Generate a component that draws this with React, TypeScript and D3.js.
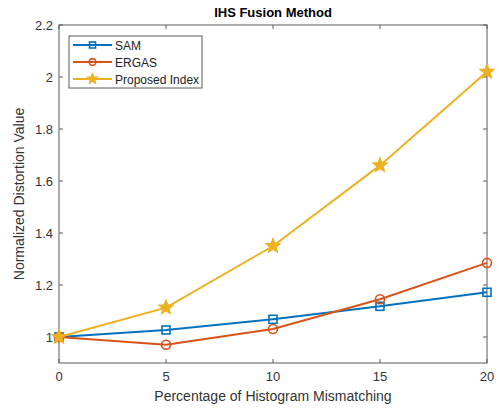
import React from "react";
import * as d3 from "d3";

const xValues = [0, 5, 10, 15, 20];
const samValues = [1.0, 1.027, 1.068, 1.118, 1.172];
const ergasValues = [1.0, 0.97, 1.031, 1.145, 1.285];
const proposedValues = [1.0, 1.113, 1.35, 1.66, 2.02];
const xTicks = [0, 5, 10, 15, 20];
const yTicks = [1, 1.2, 1.4, 1.6, 1.8, 2, 2.2];
const seriesNames = ["SAM", "ERGAS", "Proposed Index"];
const colors = ["#0072BD", "#D95319", "#EDB120"];

const W = 499, H = 409;
const M = { left: 59, right: 487, top: 25, bottom: 363 };
const FONT = "'Liberation Sans', Arial, Helvetica, sans-serif";
const AX = "#5a5a5a";

function starPath(cx: number, cy: number, R: number) {
  const r = R * 0.42;
  const pts: string[] = [];
  for (let i = 0; i < 10; i++) {
    const a = -Math.PI / 2 + (i * Math.PI) / 5;
    const rr = i % 2 === 0 ? R : r;
    pts.push(`${cx + rr * Math.cos(a)},${cy + rr * Math.sin(a)}`);
  }
  return "M" + pts.join("L") + "Z";
}

function Marker({ kind, x, y, color, s = 1 }: { kind: number; x: number; y: number; color: string; s?: number }) {
  if (kind === 0) return <rect x={x - 4 * s} y={y - 4 * s} width={8 * s} height={8 * s} fill="none" stroke={color} strokeWidth={1.6} />;
  if (kind === 1) return <circle cx={x} cy={y} r={4.5 * s} fill="none" stroke={color} strokeWidth={1.6} />;
  return <path d={starPath(x, y, 8 * s)} fill={color} stroke={color} strokeWidth={1} />;
}

export default function App() {
  const x = d3.scaleLinear().domain([0, 20]).range([M.left, M.right]);
  const y = d3.scaleLinear().domain([0.9, 2.2]).range([M.bottom, M.top]);
  const line = d3.line<[number, number]>().x((d) => x(d[0])).y((d) => y(d[1]));
  const series = [samValues, ergasValues, proposedValues];
  const tl = 4;
  return (
    <svg width={W} height={H} style={{ position: "absolute", left: 0, top: 0, background: "#fff" }} fontFamily={FONT}>
      <rect x={0} y={0} width={W} height={H} fill="#fff" />
      {xTicks.map((t) => (
        <g key={"x" + t}>
          <line x1={x(t)} x2={x(t)} y1={M.bottom} y2={M.bottom - tl} stroke={AX} />
          <line x1={x(t)} x2={x(t)} y1={M.top} y2={M.top + tl} stroke={AX} />
          <text x={x(t)} y={M.bottom + 18} textAnchor="middle" fontSize={13} fill="#333">{t}</text>
        </g>
      ))}
      {yTicks.map((t) => (
        <g key={"y" + t}>
          <line x1={M.left} x2={M.left + tl} y1={y(t)} y2={y(t)} stroke={AX} />
          <line x1={M.right} x2={M.right - tl} y1={y(t)} y2={y(t)} stroke={AX} />
          <text x={M.left - 6} y={y(t) + 4.5} textAnchor="end" fontSize={13} fill="#333">{d3.format("~g")(t)}</text>
        </g>
      ))}
      <rect x={M.left} y={M.top} width={M.right - M.left} height={M.bottom - M.top} fill="none" stroke={AX} strokeWidth={1} />
      {series.map((vals, i) => (
        <g key={"s" + i}>
          <path d={line(xValues.map((xv, j) => [xv, vals[j]]) as [number, number][]) || ""} fill="none" stroke={colors[i]} strokeWidth={2} />
          {xValues.map((xv, j) => (
            <Marker key={j} kind={i} x={x(xv)} y={y(vals[j])} color={colors[i]} />
          ))}
        </g>
      ))}
      <text x={(M.left + M.right) / 2} y={17} textAnchor="middle" fontSize={13} fontWeight="bold" fill="#000">IHS Fusion Method</text>
      <text x={(M.left + M.right) / 2} y={401} textAnchor="middle" fontSize={14} fill="#333">Percentage of Histogram Mismatching</text>
      <text transform={`translate(24,${(M.top + M.bottom) / 2}) rotate(-90)`} textAnchor="middle" fontSize={14} fill="#333">Normalized Distortion Value</text>
      <g>
        <rect x={69} y={36} width={133} height={52} fill="#fff" stroke={AX} />
        {seriesNames.map((n, i) => {
          const ly = 45 + i * 17;
          return (
            <g key={n}>
              <line x1={73} x2={112} y1={ly} y2={ly} stroke={colors[i]} strokeWidth={2} />
              <Marker kind={i} x={92.5} y={ly} color={colors[i]} s={0.75} />
              <text x={115} y={ly + 4.5} fontSize={12} fill="#222">{n}</text>
            </g>
          );
        })}
      </g>
    </svg>
  );
}
